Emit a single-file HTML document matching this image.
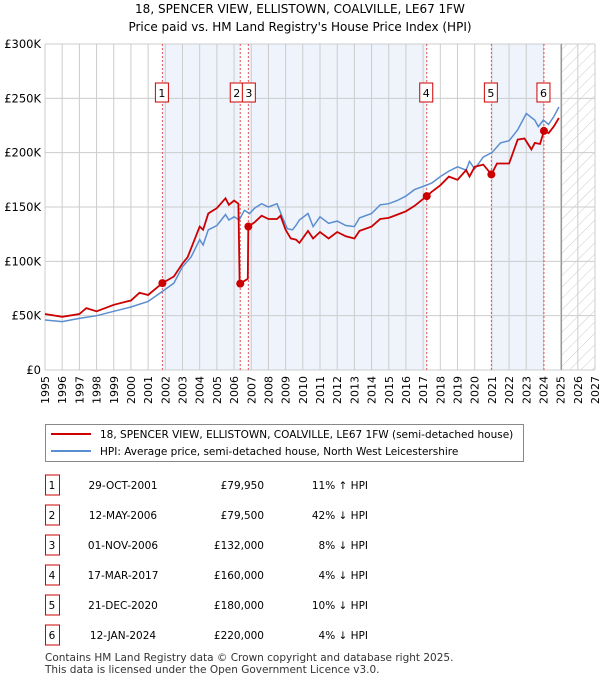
<!DOCTYPE html>
<html><head><meta charset="utf-8">
<style>
body{margin:0;background:#fff;font-family:"DejaVu Sans","Liberation Sans",sans-serif;}
svg text{font-family:"DejaVu Sans","Liberation Sans",sans-serif;}
</style></head>
<body>
<svg id="chart" width="600" height="680" xmlns="http://www.w3.org/2000/svg">
<defs>
<pattern id="hatch" patternUnits="userSpaceOnUse" width="8" height="8" patternTransform="rotate(45)">
<line x1="0" y1="0" x2="0" y2="8" stroke="#ccc" stroke-width="1"/>
</pattern>
</defs>
<text x="300" y="13" text-anchor="middle" font-size="12" fill="#000">18, SPENCER VIEW, ELLISTOWN, COALVILLE, LE67 1FW</text>
<text x="300" y="31" text-anchor="middle" font-size="12" fill="#000">Price paid vs. HM Land Registry's House Price Index (HPI)</text>
<g id="shading"></g>
<g id="grid"></g>
<g id="vlines"></g>
<g id="series"></g>
<g id="markers"></g>
<g id="axes"></g>

<g>
<rect x="45.5" y="424.5" width="478" height="37" fill="#fff" stroke="#888"/>
<line x1="51" y1="434" x2="91" y2="434" stroke="#cc0000" stroke-width="2"/>
<text x="100" y="438" font-size="10.5">18, SPENCER VIEW, ELLISTOWN, COALVILLE, LE67 1FW (semi-detached house)</text>
<line x1="51" y1="451" x2="91" y2="451" stroke="#5b8ed0" stroke-width="2"/>
<text x="100" y="455" font-size="10.5">HPI: Average price, semi-detached house, North West Leicestershire</text>
</g>
<g id="table"></g>
<text x="45" y="661" font-size="10.5" fill="#333">Contains HM Land Registry data © Crown copyright and database right 2025.</text>
<text x="45" y="673" font-size="10.5" fill="#333">This data is licensed under the Open Government Licence v3.0.</text>
</svg>
<script>
const hpiYears=[1995,1996,1997,1998,1999,2000,2001,2001.8,2002.5,2003,2003.5,2004,2004.2,2004.5,2005,2005.5,2005.7,2006,2006.3,2006.6,2006.9,2007.2,2007.6,2008,2008.5,2008.8,2009.1,2009.4,2009.6,2009.8,2010.3,2010.6,2011,2011.5,2012,2012.5,2013,2013.3,2014,2014.5,2015,2015.5,2016,2016.5,2017,2017.5,2018,2018.5,2019,2019.5,2019.7,2020,2020.5,2021,2021.5,2022,2022.5,2023,2023.5,2023.7,2024,2024.3,2024.6,2024.9];
const hpiValues=[46,44.5,47.5,50,54,58,63,72,80,95,104,120,115,129,133,143,138,141,138,147,144,149,153,150,153,141,130,129,133,138,144,132,141,135,137,133,132,140,144,152,153,156,160,166,169,172,178,183,187,184,192,185,196,200,209,211,221,236,230,224,230,226,233,242];
const priceYears=[1995,1996,1997,1997.4,1998,1999,2000,2000.5,2001,2001.83,2002.5,2003,2003.3,2004,2004.2,2004.5,2005,2005.5,2005.7,2006,2006.25,2006.33,2006.36,2006.8,2006.83,2007.2,2007.6,2008,2008.5,2008.7,2009,2009.3,2009.6,2009.8,2010.3,2010.6,2011,2011.5,2012,2012.5,2013,2013.3,2014,2014.5,2015,2015.5,2016,2016.5,2017.21,2017.5,2018,2018.5,2019,2019.5,2019.7,2020,2020.5,2020.97,2021.3,2022,2022.5,2022.9,2023.3,2023.5,2023.8,2024.03,2024.3,2024.6,2024.9];
const priceValues=[51.5,49,51.5,57,54,60,64,71,69,79.95,86,98,104,132,129,144,149,158,152,156,153,78,79.5,84,132,136,142,139,139,142,129,121,120,117,128,121,127,121,127,123,121,128,132,139,140,143,146,151,160,164,170,178,175,184,178,187,189,180,190,190,212,213,203,209,208,220,218,224,232];
const saleLabels=["1","2","3","4","5","6"];
const saleYears=[2001.83,2006.36,2006.83,2017.21,2020.97,2024.03];
const saleValues=[79.95,79.5,132,160,180,220];
const saleDates=["29-OCT-2001","12-MAY-2006","01-NOV-2006","17-MAR-2017","21-DEC-2020","12-JAN-2024"];
const salePrices=["£79,950","£79,500","£132,000","£160,000","£180,000","£220,000"];
const salePcts=["11% ↑ HPI","42% ↓ HPI","8% ↓ HPI","4% ↓ HPI","10% ↓ HPI","4% ↓ HPI"];
const yTicks=[0,50,100,150,200,250,300];
const yTickLabels=["£0","£50K","£100K","£150K","£200K","£250K","£300K"];
const xMin=1995,xMax=2027,L=45,R=595,T=44,B=370;
const X=y=>L+(y-xMin)/(xMax-xMin)*(R-L);
const Y=v=>B-v/300*(B-T);
const NS="http://www.w3.org/2000/svg";
function mk(tag,attrs,parent){const e=document.createElementNS(NS,tag);for(const k in attrs)e.setAttribute(k,attrs[k]);document.getElementById(parent).appendChild(e);return e;}
for(let i=0;i<saleYears.length-1;i+=2){
 const r=mk('rect',{x:X(saleYears[i]),y:T,width:X(saleYears[i+1])-X(saleYears[i]),height:B-T,fill:'#eef3fc'},'shading');
 
 
}
const hx=X(2025.05);
const hr=mk('rect',{x:hx,y:T,width:R-hx,height:B-T,fill:'url(#hatch)'},'shading');


for(let yr=xMin;yr<=xMax;yr++){
 const g=mk('line',{x1:X(yr),x2:X(yr),y1:T,y2:B,stroke:'#ccc','stroke-width':1},'grid');
 
 
 const tx=X(yr)+4, ty=376;
 const t=mk('text',{x:tx,y:ty,'font-size':11,'text-anchor':'end'},'axes');
 t.setAttribute('transform','rotate(-90 '+tx+' '+ty+')');
 
 
 t.textContent=yr;
}
yTicks.forEach((v,i)=>{
 const g=mk('line',{x1:L,x2:R,y1:Y(v),y2:Y(v),stroke:'#ccc','stroke-width':1},'grid');
 
 
 const t=mk('text',{x:L-4,y:Y(v)+4,'font-size':11.5,'text-anchor':'end'},'axes');
 
 
 t.textContent=yTickLabels[i];
});
const dl=mk('line',{x1:hx,x2:hx,y1:T,y2:B,stroke:'#999','stroke-width':1.2},'grid');


saleYears.forEach((yr,i)=>{
 const l=mk('line',{x1:X(yr),x2:X(yr),y1:T,y2:B,stroke:'#e05555','stroke-width':1,'stroke-dasharray':'2,2'},'vlines');
 
 
 let bx=X(yr)-7;
 if(i===1)bx=X(yr)-10; if(i===2)bx=X(yr)-6;
 const b=mk('rect',{x:bx,y:83,width:13,height:19,fill:'#fff',stroke:'#cc0000','stroke-width':1},'vlines');
 
 
 const t=mk('text',{x:bx+6.5,y:97,'font-size':11,'text-anchor':'middle'},'vlines');
 
 
 t.textContent=saleLabels[i];
});
const hp=mk('path',{d:hpiYears.map((y,i)=>(i?'L':'M')+X(y).toFixed(1)+','+Y(hpiValues[i]).toFixed(1)).join(''),fill:'none',stroke:'#5b8ed0','stroke-width':1.5},'series');


const pp=mk('path',{d:priceYears.map((y,i)=>(i?'L':'M')+X(y).toFixed(1)+','+Y(priceValues[i]).toFixed(1)).join(''),fill:'none',stroke:'#cc0000','stroke-width':1.8},'series');


saleYears.forEach((yr,i)=>{
 const c=mk('circle',{cx:X(yr),cy:Y(saleValues[i]),r:4,fill:'#cc0000'},'markers');
 
 
});
saleLabels.forEach((lab,i)=>{
 const y=485+i*30;
 const b=mk('rect',{x:45.5,y:y-10,width:14,height:20,fill:'#fff',stroke:'#cc0000'},'table');
 
 
 const cols=[[52,lab,'middle'],[123,saleDates[i],'middle'],[264,salePrices[i],'end'],[368,salePcts[i],'end']];
 cols.forEach(c=>{
  const t=mk('text',{x:c[0],y:y+4,'font-size':10.5,'text-anchor':c[2]},'table');
  
  
  t.textContent=c[1];
 });
});
</script>
</body></html>
